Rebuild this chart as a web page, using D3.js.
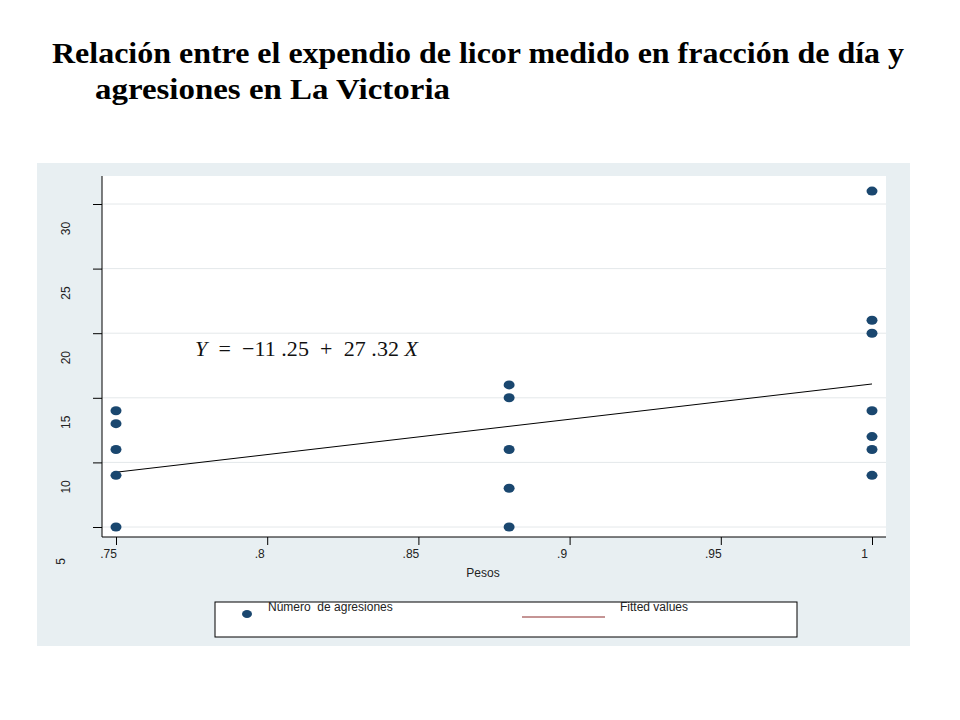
<!DOCTYPE html>
<html>
<head>
<meta charset="utf-8">
<script src="https://cdn.jsdelivr.net/npm/d3@7"></script>
<style>
  body { margin: 0; background: #fff; }
  svg text { font-family: "Liberation Sans", Arial, sans-serif; }
</style>
</head>
<body>
<div id="chart"></div>
<script>
// data
var pesos = [0.75, 0.75, 0.75, 0.75, 0.75,
             0.88, 0.88, 0.88, 0.88, 0.88,
             1, 1, 1, 1, 1, 1, 1];
var agresiones = [14, 13, 11, 9, 5,
                  16, 15, 11, 8, 5,
                  31, 21, 20, 14, 12, 11, 9];
var xTicks = [0.75, 0.8, 0.85, 0.9, 0.95, 1];
var xTickLabels = [".75", ".8", ".85", ".9", ".95", "1"];
var yTicks = [5, 10, 15, 20, 25, 30];
var intercept = -11.25;
var slope = 27.32;

var svgWidth = 960;
var svgHeight = 720;

var svg = d3.select("#chart")
    .append("svg")
    .attr("width", svgWidth)
    .attr("height", svgHeight);

// title
var title = svg.append("g")
    .attr("font-weight", "bold")
    .attr("font-size", 29);
title.append("text")
    .attr("x", 52).attr("y", 63)
    .attr("textLength", 852).attr("lengthAdjust", "spacingAndGlyphs")
    .style("font-family", "'Liberation Serif', 'Times New Roman', serif")
    .text("Relación entre el expendio de licor medido en fracción de día y");
title.append("text")
    .attr("x", 95).attr("y", 99)
    .attr("textLength", 355).attr("lengthAdjust", "spacingAndGlyphs")
    .style("font-family", "'Liberation Serif', 'Times New Roman', serif")
    .text("agresiones en La Victoria");

// outer graph region
svg.append("rect")
    .attr("x", 37).attr("y", 163)
    .attr("width", 873).attr("height", 483)
    .attr("fill", "#e8eff2");

var plot = { left: 102, right: 886, top: 176, bottom: 537 };

svg.append("rect")
    .attr("x", plot.left).attr("y", plot.top)
    .attr("width", plot.right - plot.left).attr("height", plot.bottom - plot.top)
    .attr("fill", "#fff");

var xScale = d3.scaleLinear().domain([0.75, 1]).range([116, 872]);
var yScale = d3.scaleLinear().domain([5, 30]).range([527, 204]);

// grid
svg.append("g").selectAll("line")
    .data(yTicks)
    .enter()
    .append("line")
    .attr("x1", plot.left).attr("x2", plot.right)
    .attr("y1", d => yScale(d)).attr("y2", d => yScale(d))
    .attr("stroke", "#e4e8ea")
    .attr("stroke-width", 1);

// axes
var leftAxis = d3.axisLeft(yScale).tickValues(yTicks).tickSize(9).tickSizeOuter(0);
var bottomAxis = d3.axisBottom(xScale).tickValues(xTicks).tickSize(8).tickSizeOuter(0)
    .tickFormat((d, i) => xTickLabels[i]);

var gy = svg.append("g")
    .attr("transform", `translate(${plot.left},0)`)
    .call(leftAxis);
gy.select(".domain").attr("d", `M0,${plot.top}V${plot.bottom}`).attr("stroke", "#000");
gy.selectAll(".tick line").attr("stroke", "#000");
// the labels sit below their ticks in the original, the lowest one further still
gy.selectAll(".tick text")
    .attr("x", 0).attr("dy", 0)
    .attr("transform", d => d === 5 ? "translate(-41,34) rotate(-90)" : "translate(-36,24) rotate(-90)")
    .attr("text-anchor", "middle")
    .attr("dominant-baseline", "central")
    .attr("font-size", 12)
    .attr("fill", "#222");

var gx = svg.append("g")
    .attr("transform", `translate(0,${plot.bottom})`)
    .call(bottomAxis);
gx.select(".domain").attr("d", `M${plot.left},0H${plot.right}`).attr("stroke", "#000");
gx.selectAll(".tick line").attr("stroke", "#000");
gx.selectAll(".tick text")
    .attr("dx", -8).attr("y", 12).attr("dy", "0.71em")
    .attr("font-size", 12)
    .attr("fill", "#222");

svg.append("text")
    .attr("x", 483).attr("y", 577)
    .attr("text-anchor", "middle")
    .attr("font-size", 12)
    .attr("fill", "#222")
    .text("Pesos");

// fitted line
var fitted = d3.line()
    .x(d => xScale(d))
    .y(d => yScale(intercept + slope * d));
svg.append("path")
    .datum([0.75, 1])
    .attr("d", fitted)
    .attr("fill", "none")
    .attr("stroke", "#000")
    .attr("stroke-width", 1);

// points
svg.append("g").selectAll("ellipse")
    .data(pesos)
    .enter()
    .append("ellipse")
    .attr("cx", d => xScale(d))
    .attr("cy", (d, i) => yScale(agresiones[i]))
    .attr("rx", 5.5)
    .attr("ry", 4.5)
    .attr("fill", "#1a476f");

// equation
var eq = svg.append("text")
    .attr("x", 195).attr("y", 356)
    .attr("font-size", 22)
    .attr("xml:space", "preserve")
    .attr("textLength", 223).attr("lengthAdjust", "spacing")
    .style("font-family", "'Liberation Serif', 'Times New Roman', serif")
    .attr("fill", "#111");
eq.append("tspan").attr("font-style", "italic").text("Y");
eq.append("tspan").text("  =  \u221211 .25  +  27 .32 ");
eq.append("tspan").attr("font-style", "italic").text("X");

// legend
svg.append("rect")
    .attr("x", 215).attr("y", 602)
    .attr("width", 582).attr("height", 35)
    .attr("fill", "#fff")
    .attr("stroke", "#000")
    .attr("stroke-width", 1);
svg.append("ellipse")
    .attr("cx", 247).attr("cy", 614)
    .attr("rx", 5).attr("ry", 4)
    .attr("fill", "#1a476f");
svg.append("text")
    .attr("x", 268).attr("y", 611)
    .attr("font-size", 12)
    .attr("xml:space", "preserve")
    .attr("fill", "#222")
    .text("Número  de agresiones");
svg.append("line")
    .attr("x1", 522).attr("x2", 605)
    .attr("y1", 617).attr("y2", 617)
    .attr("stroke", "#8b2b2b")
    .attr("stroke-width", 1);
svg.append("text")
    .attr("x", 620).attr("y", 611)
    .attr("font-size", 12)
    .attr("fill", "#222")
    .text("Fitted values");
</script>
</body>
</html>
